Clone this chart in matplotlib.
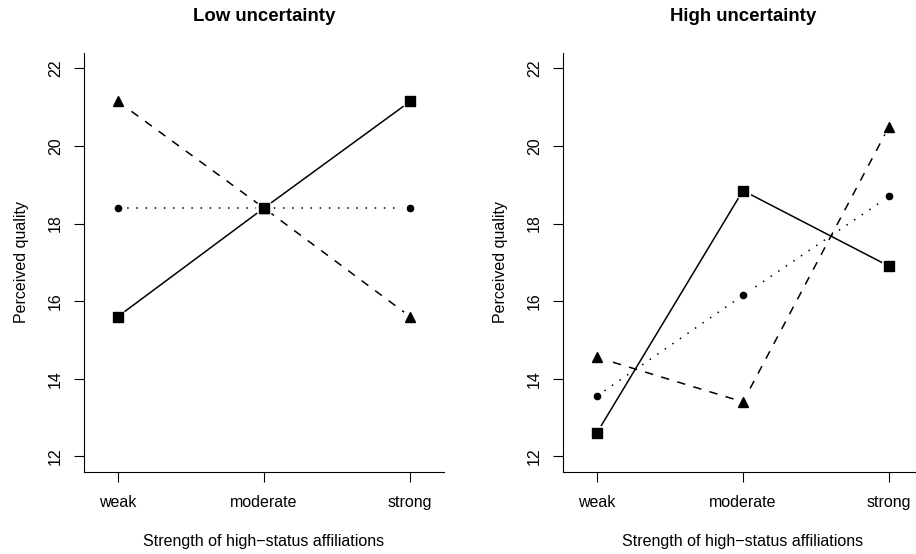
import numpy as np
import matplotlib
matplotlib.use("Agg")
import matplotlib.pyplot as plt

plt.rcParams["font.family"] = ["Liberation Sans", "DejaVu Sans"]

# --- Data ---
levels = ["weak", "moderate", "strong"]
titles = ["Low uncertainty", "High uncertainty"]

low_square   = [15.6, 18.4, 21.15]
low_triangle = [21.15, 18.4, 15.6]
low_circle   = [18.4, 18.4, 18.4]

high_square   = [12.6, 18.85, 16.9]
high_triangle = [14.55, 13.4, 20.5]
high_circle   = [13.55, 16.15, 18.7]

y_ticks = [12, 14, 16, 18, 20, 22]

FS = 11.5

# --- Plot ---

def draw_series(ax, x, y, marker, ms, dashes):
    # R type="b": line broken around each point
    ax.plot(x, y, color="black", lw=1.1, dashes=dashes, zorder=1,
            dash_capstyle="butt", solid_capstyle="butt")
    ax.plot(x, y, ls="none", marker="o", ms=11, color="white", zorder=2)
    ax.plot(x, y, ls="none", marker=marker, ms=ms, color="black", zorder=3)


def panel(ax, title, square, triangle, circle):
    x = np.arange(1, len(levels) + 1)
    draw_series(ax, x, square, "s", 6.5, [])
    draw_series(ax, x, triangle, "^", 6.5, [5.5, 5.5])
    draw_series(ax, x, circle, "o", 4.5, [1, 5])

    ax.set_xlim(0.768, 3.232)
    ax.set_ylim(11.6, 22.4)
    ax.set_xticks(x)
    ax.set_xticklabels(levels, fontsize=FS)
    ax.set_yticks(y_ticks)
    ax.set_yticklabels([str(t) for t in y_ticks], fontsize=FS, rotation=90, va="center")
    ax.tick_params(length=7, width=0.8)
    ax.tick_params(axis="x", pad=10)
    ax.tick_params(axis="y", pad=8)
    for s in ["top", "right"]:
        ax.spines[s].set_visible(False)
    for s in ["left", "bottom"]:
        ax.spines[s].set_linewidth(0.8)
    ax.set_xlabel("Strength of high\u2212status affiliations", fontsize=FS, labelpad=17)
    ax.set_ylabel("Perceived quality", fontsize=FS, labelpad=14)
    ax.set_title(title, fontsize=13.4, fontweight="bold", pad=23)


fig = plt.figure(figsize=(9.16, 5.54), dpi=100)
ax1 = fig.add_axes([0.0917, 0.1486, 0.393, 0.7558])
ax2 = fig.add_axes([0.6146, 0.1486, 0.393, 0.7558])

panel(ax1, titles[0], low_square, low_triangle, low_circle)
panel(ax2, titles[1], high_square, high_triangle, high_circle)

fig.savefig("out.png", dpi=100)
